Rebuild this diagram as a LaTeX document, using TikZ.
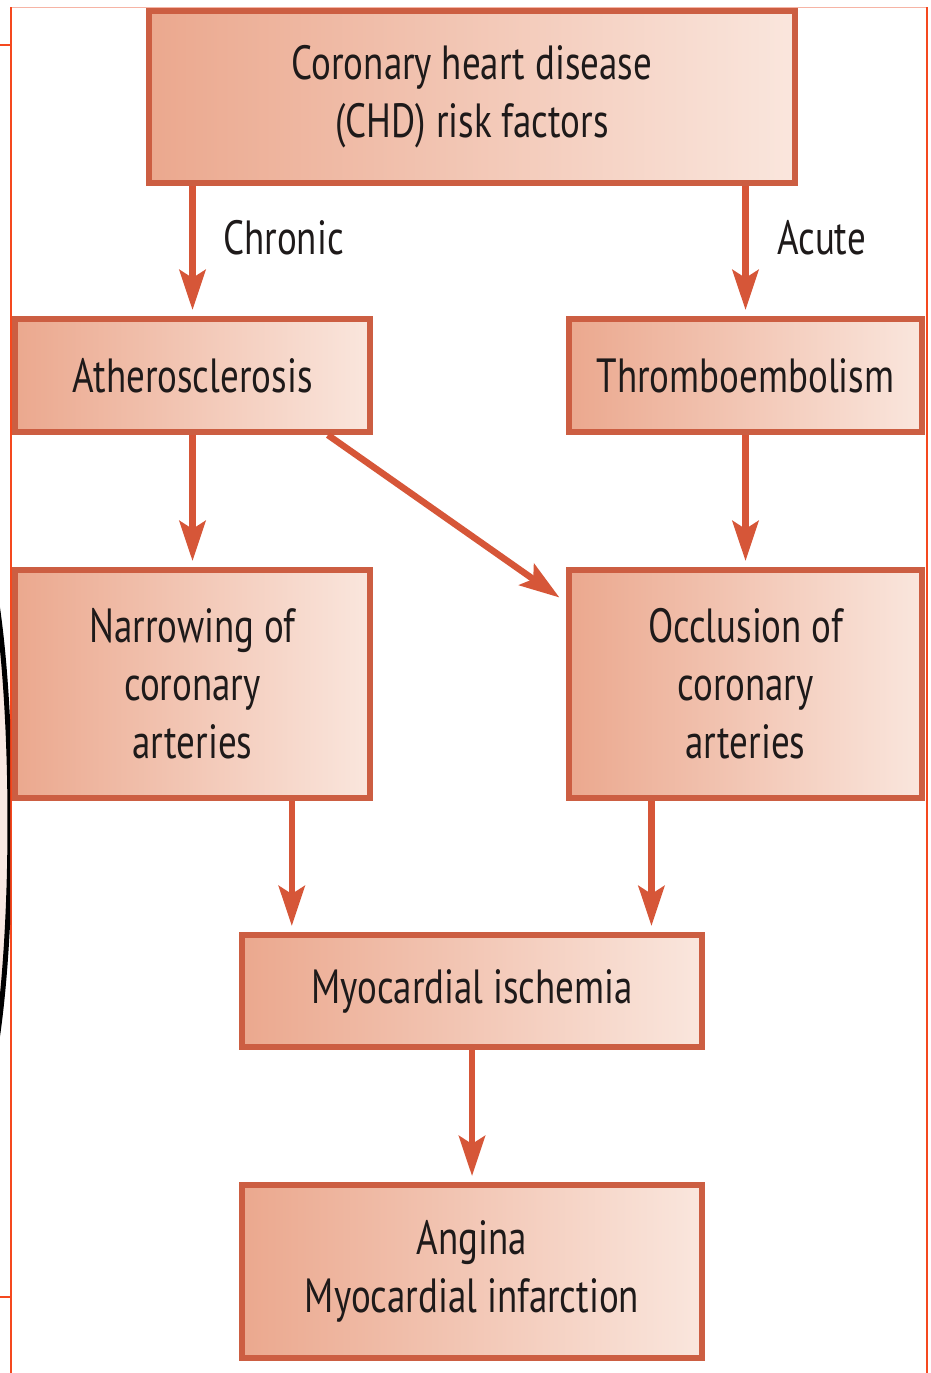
\documentclass[tikz,border=0pt]{standalone}
\usepackage{fontspec}
\setmainfont[FakeStretch=0.77]{PT Sans}
\usetikzlibrary{arrows.meta,calc}
\definecolor{boxline}{RGB}{204,94,66}
\definecolor{arrowc}{RGB}{214,86,56}
\definecolor{fillL}{RGB}{235,168,142}
\definecolor{fillR}{RGB}{250,230,221}
\definecolor{framered}{RGB}{245,72,30}
\definecolor{framepink}{RGB}{246,180,165}
\definecolor{arcfill}{RGB}{248,232,226}
\definecolor{txt}{RGB}{30,26,26}
\begin{document}
\begin{tikzpicture}[x=1pt,y=-1pt,
  box/.style={draw=boxline, line width=6pt, left color=fillL, right color=fillR,
    inner sep=0pt, font=\fontsize{48}{58}\selectfont, text=txt, align=center},
  arr/.style={draw=arrowc, line width=6.5pt,
    -{Stealth[length=40pt,width=26pt,inset=8pt,fill=arrowc]}, shorten >=6pt},
  lbl/.style={font=\fontsize{48}{58}\selectfont, text=txt, anchor=west, inner sep=0pt},
  frameline/.style={draw=framered, line width=2pt}
]
\useasboundingbox[fill=white] (0,0) rectangle (930,1373);
% frame
\draw[framepink, line width=1pt] (11,7) -- (927,7);
\draw[frameline] (11,7) -- (11,1373);
\draw[frameline] (927,7) -- (927,1373);
\draw[frameline] (0,45) -- (11,45);
\draw[frameline] (0,1297) -- (11,1297);
% arc at left
\begin{scope}
\clip (0,0) rectangle (10,1373);
\draw[black, line width=5pt, fill=arcfill] (-30,822) ellipse [x radius=40pt, y radius=295pt];
\end{scope}
% boxes
\node[box, minimum width=646pt, minimum height=172pt] (chd) at (472,97) {Coronary heart disease\\(CHD) risk factors};
\node[box, minimum width=355pt, minimum height=113pt] (ath) at (192.5,375.5) {Atherosclerosis};
\node[box, minimum width=353pt, minimum height=113pt] (thr) at (745.5,375.5) {Thromboembolism};
\node[box, minimum width=355pt, minimum height=228pt] (nar) at (192.5,684) {Narrowing of\\coronary\\arteries};
\node[box, minimum width=353pt, minimum height=228pt] (occ) at (745.5,684) {Occlusion of\\coronary\\arteries};
\node[box, minimum width=460pt, minimum height=112pt] (isc) at (472,991) {Myocardial ischemia};
\node[box, minimum width=460pt, minimum height=173pt] (ang) at (472,1271.5) {Angina\\Myocardial infarction};
% labels
\node[lbl] (chr) at (223,238) {Chronic};
\node[lbl] (acu) at (777,238) {Acute};
% connectors
\draw[arr] (chd.south -| ath.north) -- (ath.north);
\draw[arr] (chd.south -| thr.north) -- (thr.north);
\draw[arr] (ath.south) -- (nar.north);
\draw[arr] (thr.south) -- (occ.north);
\coordinate (d1) at ($(ath.south)!0.75!(ath.south east)$);
\coordinate (d2) at ($(occ.north west)!0.15!(occ.south west)$);
\draw[arr, shorten >=8pt] (d1) -- (d2);
\coordinate (n1) at ($(nar.south)!0.55!(nar.south east)$);
\coordinate (o1) at ($(occ.south west)!0.476!(occ.south)$);
\draw[arr] (n1) -- (n1 |- isc.north);
\draw[arr] (o1) -- (o1 |- isc.north);
\draw[arr] (isc.south) -- (ang.north);
\end{tikzpicture}
\end{document}
